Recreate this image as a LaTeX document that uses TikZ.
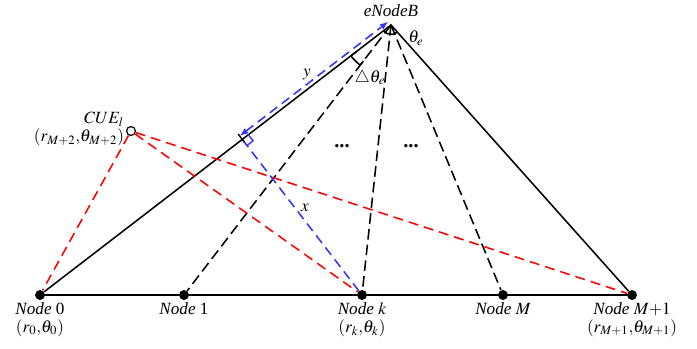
\documentclass[tikz,border=0pt]{standalone}
\usepackage{mathptmx}
\usepackage{fontspec}
\setmainfont{Liberation Serif}
\usetikzlibrary{arrows.meta, positioning, calc}
\definecolor{dimblue}{RGB}{51,51,255}

\begin{document}
\begin{tikzpicture}[
    x=0.0205cm, y=-0.0205cm,
    dot/.style={circle, fill=black, inner sep=0pt, minimum size=5.8pt},
    cuedot/.style={circle, draw, fill=white, line width=0.7pt, inner sep=0pt, minimum size=5.2pt},
    lbl/.style={align=center, font=\normalsize, inner sep=1pt},
    edge/.style={line width=0.9pt},
    beam/.style={line width=0.9pt, dash pattern=on 6.2pt off 3pt},
    link/.style={red, line width=0.9pt, dash pattern=on 5.8pt off 3.5pt},
    proj/.style={dimblue, line width=0.9pt, dash pattern=on 5.5pt off 3.3pt},
    dimarrow/.style={{Latex[length=5pt]}-{Latex[length=5pt]}, dimblue, line width=0.9pt, dash pattern=on 5.5pt off 3.3pt}
]
\useasboundingbox (0,0) rectangle (697,348);

\coordinate (enb) at (391,25);
\node[dot] (n0) at (40,295) {};
\node[dot] (n1) at (184,295) {};
\node[dot] (nk) at (362,295) {};
\node[dot] (nm) at (503,295) {};
\node[dot] (nm1) at (632,295) {};
\node[cuedot] (cue) at (131,131) {};

\node[lbl, below=0pt of n0] (l0) {\textit{Node} 0\\[-1.5pt]$(r_0{,}\theta_0)$};
\node[lbl, below=0pt of n1] (l1) {\textit{Node} 1};
\node[lbl, below=0pt of nk] (lk) {\textit{Node} $k$\\[-1.5pt]$(r_k{,}\theta_k)$};
\node[lbl, below=0pt of nm] (lm) {\textit{Node} $M$};
\node[lbl, below=0pt of nm1] (lm1) {\textit{Node} $M{+}1$\\[-1.5pt]$(r_{M+1}{,}\theta_{M+1})$};
\node[lbl, align=right, anchor=east] (cuelbl) at (126,129) {$CUE_l$\\[-1.5pt]$(r_{M+2}{,}\theta_{M+2})$};
\node[lbl] (enblbl) at (391,11) {\textit{eNodeB}};

% cell edges and beams
\draw[edge] (n0) -- (enb) -- (nm1);
\draw[edge] (n0) -- (nm1);
\foreach \n in {n1,nk,nm}
    \draw[beam] (enb) -- (\n);

% interference links from the CUE
\foreach \n in {n0,nk,nm1}
    \draw[link] (cue) -- (\n);

% projection of node k on the edge
\coordinate (foot) at ($(n0)!(nk)!(enb)$);
\draw[proj] (nk) -- (foot);
\coordinate (ra) at ($(foot)!4.5pt!(enb)$);
\coordinate (rb) at ($(foot)!4.5pt!(nk)$);
\draw[dimblue, line width=0.8pt] (ra) -- ($(ra)+(rb)-(foot)$) -- (rb);
\draw[line width=0.8pt] ($(foot)!-2pt!90:(enb)$) -- ($(foot)!4pt!90:(enb)$);
\draw[dimarrow] ($(foot)!2.5pt!90:(enb)$) -- ($(enb)!2.5pt!-90:(foot)$);

% angles
\draw[edge] (enb) ++(217.6:5.5pt) arc[start angle=217.6, end angle=311.6, radius=5.5pt];
\draw[edge] (enb) ++(217.6:25pt) -- ++(217.6:4.5pt) arc[start angle=217.6, end angle=232.5, radius=29.5pt] -- ++(52.5:3pt);

\node[lbl] (thlbl) at (416,38) {$\theta_e$};
\node[lbl] (dthlbl) at (370,78) {$\triangle\theta_e$};
\node[lbl] (ylbl) at (307,75) {$y$};
\node[lbl] (xlbl) at (305,208) {$x$};
\node[lbl, anchor=base, font=\large\bfseries] (dotsa) at (342,147) {...};
\node[lbl, anchor=base, font=\large\bfseries] (dotsb) at (411,147) {...};
\end{tikzpicture}
\end{document}
